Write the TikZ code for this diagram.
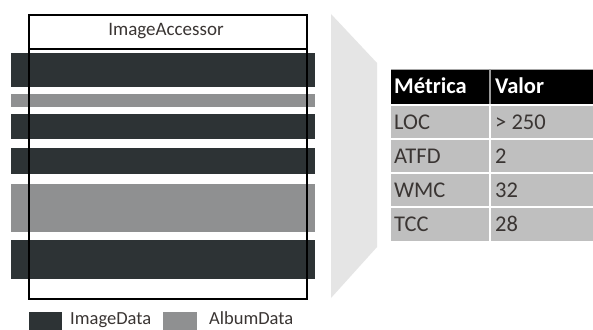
\documentclass[tikz,border=0pt]{standalone}
\usepackage{fontspec}
\setmainfont{Carlito}
\definecolor{imgdata}{HTML}{2D3335}
\definecolor{albdata}{HTML}{8F9091}
\definecolor{funnel}{HTML}{E5E5E5}
\definecolor{rowgray}{HTML}{BFBFBF}
\definecolor{txtdark}{HTML}{3A3533}
\tikzset{
  x=1pt, y=-1pt,
  imgbar/.style={fill=imgdata, draw=none},
  albbar/.style={fill=albdata, draw=none},
  hdrcell/.style={fill=black, draw=none},
  rowcell/.style={fill=rowgray, draw=none},
  hdrtext/.style={anchor=base west, inner sep=0pt, text=white, font=\fontsize{22.5}{24}\selectfont\bfseries},
  celltext/.style={anchor=base west, inner sep=0pt, text=txtdark, font=\fontsize{22.5}{24}\selectfont},
  legtext/.style={anchor=base west, inner sep=0pt, text=txtdark, font=\fontsize{18.5}{20}\selectfont},
}
\begin{document}
\begin{tikzpicture}
\useasboundingbox (0,0) rectangle (593,329);
\clip (0,0) rectangle (593,329);
\fill[white] (0,0) rectangle (593,329);

% data bands of the class
\fill[imgbar] (11,53) rectangle (315,87);
\fill[albbar] (11,94) rectangle (315,107);
\fill[imgbar] (11,114) rectangle (315,139);
\fill[imgbar] (11,148) rectangle (315,174);
\fill[albbar] (11,184) rectangle (315,232);
\fill[imgbar] (11,240) rectangle (315,279);

% class box with its name compartment
\node[draw=black, line width=1.8pt, minimum width=278pt, minimum height=284pt, inner sep=0pt, anchor=north west] (cls) at (28,14) {};
\draw[line width=1.3pt] (28,49) -- (306,49);
\node[text=txtdark, font=\fontsize{19}{21}\selectfont] (clsname) at (166,31.5) {ImageAccessor};

% zoom funnel
\fill[funnel] (331,14) -- (377,63) -- (377,247) -- (331,298) -- cycle;

% metrics table
\fill[hdrcell] (391,69) rectangle (600,104);
\fill[rowcell] (391,106) rectangle (600,138);
\fill[rowcell] (391,140) rectangle (600,172);
\fill[rowcell] (391,174) rectangle (600,206);
\fill[rowcell] (391,208) rectangle (600,241);
\draw[gray!70, line width=1pt] (391,69.5) -- (600,69.5);
\draw[gray!80, line width=1.5pt] (490,69) -- (490,104);
\draw[white, line width=2pt] (490,104) -- (490,241);

\node[hdrtext] (h1) at (394,93.5) {Métrica};
\node[hdrtext] (h2) at (495,93.5) {Valor};
\node[celltext] (m1) at (394,129) {LOC};
\node[celltext] (v1) at (495,129) {> 250};
\node[celltext] (m2) at (394,163) {ATFD};
\node[celltext] (v2) at (495,163) {2};
\node[celltext] (m3) at (394,197) {WMC};
\node[celltext] (v3) at (495,197) {32};
\node[celltext] (m4) at (394,231) {TCC};
\node[celltext] (v4) at (495,231) {28};

% legend
\fill[imgdata] (29,312) rectangle (62,332);
\node[legtext] (lg1) at (70,324) {ImageData};
\fill[albdata] (163,312) rectangle (197,332);
\node[legtext] (lg2) at (209,324) {AlbumData};
\end{tikzpicture}
\end{document}
